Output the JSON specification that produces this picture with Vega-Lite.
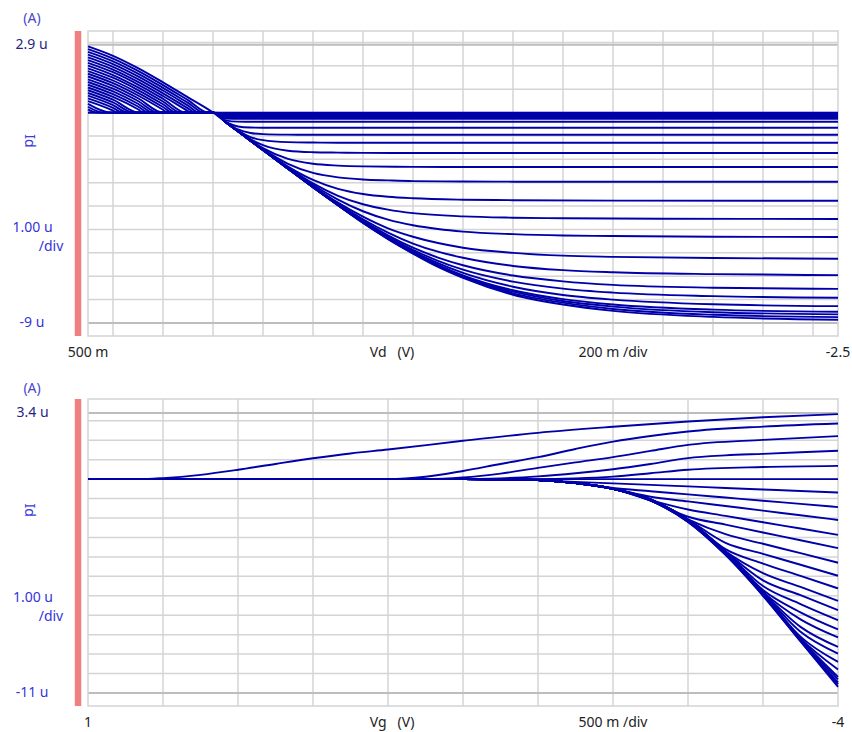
{
"$schema": "https://vega.github.io/schema/vega-lite/v6.json",
"width": 852, "height": 732, "autosize": "none", "padding": 0,
"background": "white",
"config": {"view": {"stroke": null}, "font": "Noto Sans"},
"datasets": {
"top": [
{"c":1,"v":0.5,"i":0},{"c":1,"v":-2.5,"i":0},
{"c":2,"v":0.5,"i":0},{"c":2,"v":0,"i":0},{"c":2,"v":-0.05,"i":-0.03},{"c":2,"v":-2.5,"i":-0.03},
{"c":3,"v":0.5,"i":0.135},{"c":3,"v":0.467,"i":0},{"c":3,"v":0,"i":0},{"c":3,"v":-0.05,"i":-0.06},{"c":3,"v":-2.5,"i":-0.06},
{"c":4,"v":0.5,"i":0.252},{"c":4,"v":0.438,"i":0},{"c":4,"v":0,"i":0},{"c":4,"v":-0.05,"i":-0.1},{"c":4,"v":-2.5,"i":-0.1},
{"c":5,"v":0.5,"i":0.37},{"c":5,"v":0.409,"i":0},{"c":5,"v":0,"i":0},{"c":5,"v":-0.05,"i":-0.149},{"c":5,"v":-0.1,"i":-0.15},{"c":5,"v":-2.5,"i":-0.15},
{"c":6,"v":0.5,"i":0.487},{"c":6,"v":0.4,"i":0.082},{"c":6,"v":0.384,"i":0},{"c":6,"v":0,"i":0},{"c":6,"v":-0.05,"i":-0.197},{"c":6,"v":-0.1,"i":-0.2},{"c":6,"v":-2.5,"i":-0.2},
{"c":7,"v":0.5,"i":0.605},{"c":7,"v":0.4,"i":0.2},{"c":7,"v":0.362,"i":0},{"c":7,"v":0,"i":0},{"c":7,"v":-0.05,"i":-0.257},{"c":7,"v":-0.1,"i":-0.269},{"c":7,"v":-0.2,"i":-0.27},{"c":7,"v":-2.5,"i":-0.27},
{"c":8,"v":0.5,"i":0.722},{"c":8,"v":0.4,"i":0.317},{"c":8,"v":0.34,"i":0},{"c":8,"v":0,"i":0},{"c":8,"v":-0.05,"i":-0.33},{"c":8,"v":-0.1,"i":-0.385},{"c":8,"v":-0.15,"i":-0.39},{"c":8,"v":-2.5,"i":-0.39},
{"c":9,"v":0.5,"i":0.839},{"c":9,"v":0.4,"i":0.434},{"c":9,"v":0.317,"i":0},{"c":9,"v":0,"i":0},{"c":9,"v":-0.05,"i":-0.386},{"c":9,"v":-0.1,"i":-0.593},{"c":9,"v":-0.15,"i":-0.637},{"c":9,"v":-0.2,"i":-0.646},{"c":9,"v":-0.3,"i":-0.65},{"c":9,"v":-2.5,"i":-0.65},
{"c":10,"v":0.5,"i":0.957},{"c":10,"v":0.4,"i":0.552},{"c":10,"v":0.296,"i":0},{"c":10,"v":0,"i":0},{"c":10,"v":-0.05,"i":-0.397},{"c":10,"v":-0.1,"i":-0.722},{"c":10,"v":-0.15,"i":-0.874},{"c":10,"v":-0.2,"i":-0.922},{"c":10,"v":-0.3,"i":-0.944},{"c":10,"v":-0.4,"i":-0.949},{"c":10,"v":-2.5,"i":-0.95},
{"c":11,"v":0.5,"i":1.074},{"c":11,"v":0.4,"i":0.669},{"c":11,"v":0.3,"i":0.143},{"c":11,"v":0.277,"i":0},{"c":11,"v":0,"i":0},{"c":11,"v":-0.05,"i":-0.4},{"c":11,"v":-0.1,"i":-0.771},{"c":11,"v":-0.15,"i":-1.045},{"c":11,"v":-0.2,"i":-1.18},{"c":11,"v":-0.3,"i":-1.264},{"c":11,"v":-0.4,"i":-1.281},{"c":11,"v":-0.5,"i":-1.288},{"c":11,"v":-2.5,"i":-1.29},
{"c":12,"v":0.5,"i":1.192},{"c":12,"v":0.4,"i":0.787},{"c":12,"v":0.3,"i":0.261},{"c":12,"v":0.257,"i":0},{"c":12,"v":0,"i":0},{"c":12,"v":-0.05,"i":-0.4},{"c":12,"v":-0.1,"i":-0.79},{"c":12,"v":-0.15,"i":-1.138},{"c":12,"v":-0.2,"i":-1.394},{"c":12,"v":-0.3,"i":-1.63},{"c":12,"v":-0.4,"i":-1.695},{"c":12,"v":-0.5,"i":-1.713},{"c":12,"v":-0.6,"i":-1.723},{"c":12,"v":-0.8,"i":-1.73},{"c":12,"v":-2.5,"i":-1.73},
{"c":13,"v":0.5,"i":1.309},{"c":13,"v":0.4,"i":0.904},{"c":13,"v":0.3,"i":0.378},{"c":13,"v":0.238,"i":0},{"c":13,"v":0,"i":0},{"c":13,"v":-0.05,"i":-0.4},{"c":13,"v":-0.1,"i":-0.797},{"c":13,"v":-0.15,"i":-1.18},{"c":13,"v":-0.2,"i":-1.52},{"c":13,"v":-0.3,"i":-1.98},{"c":13,"v":-0.4,"i":-2.19},{"c":13,"v":-0.5,"i":-2.267},{"c":13,"v":-0.6,"i":-2.3},{"c":13,"v":-0.8,"i":-2.32},{"c":13,"v":-1,"i":-2.33},{"c":13,"v":-2.5,"i":-2.33},
{"c":14,"v":0.5,"i":1.426},{"c":14,"v":0.4,"i":1.021},{"c":14,"v":0.3,"i":0.495},{"c":14,"v":0.219,"i":0},{"c":14,"v":0,"i":0},{"c":14,"v":-0.05,"i":-0.4},{"c":14,"v":-0.1,"i":-0.8},{"c":14,"v":-0.15,"i":-1.19},{"c":14,"v":-0.2,"i":-1.563},{"c":14,"v":-0.3,"i":-2.19},{"c":14,"v":-0.4,"i":-2.58},{"c":14,"v":-0.5,"i":-2.77},{"c":14,"v":-0.6,"i":-2.86},{"c":14,"v":-0.7,"i":-2.9},{"c":14,"v":-0.8,"i":-2.93},{"c":14,"v":-1,"i":-2.945},{"c":14,"v":-1.2,"i":-2.955},{"c":14,"v":-2.5,"i":-2.96},
{"c":15,"v":0.5,"i":1.544},{"c":15,"v":0.4,"i":1.139},{"c":15,"v":0.3,"i":0.613},{"c":15,"v":0.2,"i":0},{"c":15,"v":0,"i":0},{"c":15,"v":-0.05,"i":-0.4},{"c":15,"v":-0.1,"i":-0.8},{"c":15,"v":-0.15,"i":-1.196},{"c":15,"v":-0.2,"i":-1.585},{"c":15,"v":-0.3,"i":-2.31},{"c":15,"v":-0.4,"i":-2.88},{"c":15,"v":-0.5,"i":-3.26},{"c":15,"v":-0.6,"i":-3.48},{"c":15,"v":-0.7,"i":-3.6},{"c":15,"v":-0.8,"i":-3.665},{"c":15,"v":-1,"i":-3.725},{"c":15,"v":-1.2,"i":-3.747},{"c":15,"v":-1.6,"i":-3.765},{"c":15,"v":-2.5,"i":-3.77},
{"c":16,"v":0.5,"i":1.661},{"c":16,"v":0.4,"i":1.256},{"c":16,"v":0.3,"i":0.73},{"c":16,"v":0.2,"i":0.121},{"c":16,"v":0.181,"i":0},{"c":16,"v":0,"i":0},{"c":16,"v":-0.05,"i":-0.4},{"c":16,"v":-0.1,"i":-0.8},{"c":16,"v":-0.15,"i":-1.198},{"c":16,"v":-0.2,"i":-1.597},{"c":16,"v":-0.3,"i":-2.35},{"c":16,"v":-0.4,"i":-3.03},{"c":16,"v":-0.5,"i":-3.56},{"c":16,"v":-0.6,"i":-3.92},{"c":16,"v":-0.7,"i":-4.15},{"c":16,"v":-0.8,"i":-4.3},{"c":16,"v":-1,"i":-4.44},{"c":16,"v":-1.2,"i":-4.495},{"c":16,"v":-1.4,"i":-4.52},{"c":16,"v":-1.8,"i":-4.54},{"c":16,"v":-2.5,"i":-4.55},
{"c":17,"v":0.5,"i":1.778},{"c":17,"v":0.4,"i":1.373},{"c":17,"v":0.3,"i":0.847},{"c":17,"v":0.2,"i":0.238},{"c":17,"v":0.163,"i":0},{"c":17,"v":0,"i":0},{"c":17,"v":-0.05,"i":-0.4},{"c":17,"v":-0.1,"i":-0.8},{"c":17,"v":-0.15,"i":-1.2},{"c":17,"v":-0.2,"i":-1.6},{"c":17,"v":-0.3,"i":-2.38},{"c":17,"v":-0.4,"i":-3.1},{"c":17,"v":-0.5,"i":-3.72},{"c":17,"v":-0.6,"i":-4.22},{"c":17,"v":-0.7,"i":-4.58},{"c":17,"v":-0.8,"i":-4.82},{"c":17,"v":-0.9,"i":-4.98},{"c":17,"v":-1,"i":-5.09},{"c":17,"v":-1.2,"i":-5.2},{"c":17,"v":-1.4,"i":-5.26},{"c":17,"v":-1.6,"i":-5.28},{"c":17,"v":-2,"i":-5.31},{"c":17,"v":-2.5,"i":-5.32},
{"c":18,"v":0.5,"i":1.896},{"c":18,"v":0.4,"i":1.491},{"c":18,"v":0.3,"i":0.965},{"c":18,"v":0.2,"i":0.356},{"c":18,"v":0.145,"i":0},{"c":18,"v":0,"i":0},{"c":18,"v":-0.05,"i":-0.4},{"c":18,"v":-0.1,"i":-0.8},{"c":18,"v":-0.15,"i":-1.2},{"c":18,"v":-0.2,"i":-1.6},{"c":18,"v":-0.3,"i":-2.39},{"c":18,"v":-0.4,"i":-3.15},{"c":18,"v":-0.5,"i":-3.85},{"c":18,"v":-0.6,"i":-4.45},{"c":18,"v":-0.7,"i":-4.95},{"c":18,"v":-0.8,"i":-5.31},{"c":18,"v":-0.9,"i":-5.58},{"c":18,"v":-1,"i":-5.78},{"c":18,"v":-1.2,"i":-6},{"c":18,"v":-1.4,"i":-6.12},{"c":18,"v":-1.6,"i":-6.17},{"c":18,"v":-2,"i":-6.22},{"c":18,"v":-2.5,"i":-6.25},
{"c":19,"v":0.5,"i":2.013},{"c":19,"v":0.4,"i":1.608},{"c":19,"v":0.3,"i":1.082},{"c":19,"v":0.2,"i":0.473},{"c":19,"v":0.127,"i":0},{"c":19,"v":0,"i":0},{"c":19,"v":-0.05,"i":-0.4},{"c":19,"v":-0.1,"i":-0.8},{"c":19,"v":-0.15,"i":-1.2},{"c":19,"v":-0.2,"i":-1.6},{"c":19,"v":-0.3,"i":-2.39},{"c":19,"v":-0.4,"i":-3.17},{"c":19,"v":-0.5,"i":-3.9},{"c":19,"v":-0.6,"i":-4.56},{"c":19,"v":-0.7,"i":-5.13},{"c":19,"v":-0.8,"i":-5.6},{"c":19,"v":-0.9,"i":-5.95},{"c":19,"v":-1,"i":-6.21},{"c":19,"v":-1.2,"i":-6.56},{"c":19,"v":-1.4,"i":-6.74},{"c":19,"v":-1.6,"i":-6.83},{"c":19,"v":-2,"i":-6.91},{"c":19,"v":-2.5,"i":-6.95},
{"c":20,"v":0.5,"i":2.131},{"c":20,"v":0.4,"i":1.726},{"c":20,"v":0.3,"i":1.2},{"c":20,"v":0.2,"i":0.591},{"c":20,"v":0.108,"i":0},{"c":20,"v":0,"i":0},{"c":20,"v":-0.05,"i":-0.4},{"c":20,"v":-0.1,"i":-0.8},{"c":20,"v":-0.15,"i":-1.2},{"c":20,"v":-0.2,"i":-1.6},{"c":20,"v":-0.3,"i":-2.4},{"c":20,"v":-0.4,"i":-3.18},{"c":20,"v":-0.5,"i":-3.93},{"c":20,"v":-0.6,"i":-4.62},{"c":20,"v":-0.7,"i":-5.25},{"c":20,"v":-0.8,"i":-5.78},{"c":20,"v":-0.9,"i":-6.2},{"c":20,"v":-1,"i":-6.53},{"c":20,"v":-1.2,"i":-6.97},{"c":20,"v":-1.4,"i":-7.22},{"c":20,"v":-1.6,"i":-7.37},{"c":20,"v":-2,"i":-7.49},{"c":20,"v":-2.5,"i":-7.54},
{"c":21,"v":0.5,"i":2.248},{"c":21,"v":0.4,"i":1.843},{"c":21,"v":0.3,"i":1.317},{"c":21,"v":0.2,"i":0.708},{"c":21,"v":0.1,"i":0.063},{"c":21,"v":0.09,"i":0},{"c":21,"v":0,"i":0},{"c":21,"v":-0.05,"i":-0.4},{"c":21,"v":-0.1,"i":-0.8},{"c":21,"v":-0.15,"i":-1.2},{"c":21,"v":-0.2,"i":-1.6},{"c":21,"v":-0.3,"i":-2.4},{"c":21,"v":-0.4,"i":-3.19},{"c":21,"v":-0.5,"i":-3.94},{"c":21,"v":-0.6,"i":-4.65},{"c":21,"v":-0.7,"i":-5.3},{"c":21,"v":-0.8,"i":-5.87},{"c":21,"v":-0.9,"i":-6.34},{"c":21,"v":-1,"i":-6.72},{"c":21,"v":-1.2,"i":-7.23},{"c":21,"v":-1.4,"i":-7.53},{"c":21,"v":-1.6,"i":-7.7},{"c":21,"v":-2,"i":-7.85},{"c":21,"v":-2.5,"i":-7.92},
{"c":22,"v":0.5,"i":2.365},{"c":22,"v":0.4,"i":1.96},{"c":22,"v":0.3,"i":1.434},{"c":22,"v":0.2,"i":0.825},{"c":22,"v":0.1,"i":0.18},{"c":22,"v":0.072,"i":0},{"c":22,"v":0,"i":0},{"c":22,"v":-0.05,"i":-0.4},{"c":22,"v":-0.1,"i":-0.8},{"c":22,"v":-0.15,"i":-1.2},{"c":22,"v":-0.2,"i":-1.6},{"c":22,"v":-0.3,"i":-2.4},{"c":22,"v":-0.4,"i":-3.19},{"c":22,"v":-0.5,"i":-3.95},{"c":22,"v":-0.6,"i":-4.68},{"c":22,"v":-0.7,"i":-5.35},{"c":22,"v":-0.8,"i":-5.94},{"c":22,"v":-0.9,"i":-6.44},{"c":22,"v":-1,"i":-6.86},{"c":22,"v":-1.2,"i":-7.45},{"c":22,"v":-1.4,"i":-7.8},{"c":22,"v":-1.6,"i":-8},{"c":22,"v":-2,"i":-8.2},{"c":22,"v":-2.5,"i":-8.28},
{"c":23,"v":0.5,"i":2.483},{"c":23,"v":0.4,"i":2.078},{"c":23,"v":0.3,"i":1.552},{"c":23,"v":0.2,"i":0.943},{"c":23,"v":0.1,"i":0.298},{"c":23,"v":0.054,"i":0},{"c":23,"v":0,"i":0},{"c":23,"v":-0.05,"i":-0.4},{"c":23,"v":-0.1,"i":-0.8},{"c":23,"v":-0.15,"i":-1.2},{"c":23,"v":-0.2,"i":-1.6},{"c":23,"v":-0.3,"i":-2.4},{"c":23,"v":-0.4,"i":-3.19},{"c":23,"v":-0.5,"i":-3.96},{"c":23,"v":-0.6,"i":-4.69},{"c":23,"v":-0.7,"i":-5.38},{"c":23,"v":-0.8,"i":-5.98},{"c":23,"v":-0.9,"i":-6.51},{"c":23,"v":-1,"i":-6.96},{"c":23,"v":-1.2,"i":-7.6},{"c":23,"v":-1.4,"i":-7.98},{"c":23,"v":-1.6,"i":-8.21},{"c":23,"v":-2,"i":-8.43},{"c":23,"v":-2.5,"i":-8.52},
{"c":24,"v":0.5,"i":2.6},{"c":24,"v":0.4,"i":2.195},{"c":24,"v":0.3,"i":1.669},{"c":24,"v":0.2,"i":1.06},{"c":24,"v":0.1,"i":0.415},{"c":24,"v":0.036,"i":0},{"c":24,"v":0,"i":0},{"c":24,"v":-0.05,"i":-0.4},{"c":24,"v":-0.1,"i":-0.8},{"c":24,"v":-0.15,"i":-1.2},{"c":24,"v":-0.2,"i":-1.6},{"c":24,"v":-0.3,"i":-2.4},{"c":24,"v":-0.4,"i":-3.19},{"c":24,"v":-0.5,"i":-3.96},{"c":24,"v":-0.6,"i":-4.7},{"c":24,"v":-0.7,"i":-5.39},{"c":24,"v":-0.8,"i":-6},{"c":24,"v":-0.9,"i":-6.54},{"c":24,"v":-1,"i":-7},{"c":24,"v":-1.2,"i":-7.66},{"c":24,"v":-1.4,"i":-8.06},{"c":24,"v":-1.6,"i":-8.3},{"c":24,"v":-2,"i":-8.54},{"c":24,"v":-2.5,"i":-8.63},
{"c":25,"v":0.5,"i":2.718},{"c":25,"v":0.4,"i":2.313},{"c":25,"v":0.3,"i":1.787},{"c":25,"v":0.2,"i":1.178},{"c":25,"v":0.1,"i":0.533},{"c":25,"v":0.018,"i":0},{"c":25,"v":0,"i":0},{"c":25,"v":-0.05,"i":-0.4},{"c":25,"v":-0.1,"i":-0.8},{"c":25,"v":-0.15,"i":-1.2},{"c":25,"v":-0.2,"i":-1.6},{"c":25,"v":-0.3,"i":-2.4},{"c":25,"v":-0.4,"i":-3.19},{"c":25,"v":-0.5,"i":-3.96},{"c":25,"v":-0.6,"i":-4.71},{"c":25,"v":-0.7,"i":-5.39},{"c":25,"v":-0.8,"i":-6.01},{"c":25,"v":-0.9,"i":-6.57},{"c":25,"v":-1,"i":-7.04},{"c":25,"v":-1.2,"i":-7.73},{"c":25,"v":-1.4,"i":-8.13},{"c":25,"v":-1.6,"i":-8.4},{"c":25,"v":-2,"i":-8.65},{"c":25,"v":-2.5,"i":-8.75},
{"c":26,"v":0.5,"i":2.835},{"c":26,"v":0.4,"i":2.43},{"c":26,"v":0.3,"i":1.904},{"c":26,"v":0.2,"i":1.295},{"c":26,"v":0.1,"i":0.65},{"c":26,"v":0,"i":0},{"c":26,"v":-0.05,"i":-0.4},{"c":26,"v":-0.1,"i":-0.8},{"c":26,"v":-0.15,"i":-1.2},{"c":26,"v":-0.2,"i":-1.6},{"c":26,"v":-0.3,"i":-2.4},{"c":26,"v":-0.4,"i":-3.19},{"c":26,"v":-0.5,"i":-3.96},{"c":26,"v":-0.6,"i":-4.72},{"c":26,"v":-0.7,"i":-5.41},{"c":26,"v":-0.8,"i":-6.03},{"c":26,"v":-0.9,"i":-6.6},{"c":26,"v":-1,"i":-7.07},{"c":26,"v":-1.2,"i":-7.79},{"c":26,"v":-1.4,"i":-8.21},{"c":26,"v":-1.6,"i":-8.48},{"c":26,"v":-2,"i":-8.74},{"c":26,"v":-2.5,"i":-8.86}
],
"bot": [
{"c":0,"v":1,"i":0},{"c":0,"v":-4,"i":0},
{"c":1,"v":1,"i":0},{"c":1,"v":0.75,"i":0},{"c":1,"v":0.6,"i":0.01},{"c":1,"v":0.5,"i":0.05},{"c":1,"v":0.25,"i":0.22},{"c":1,"v":0,"i":0.48},{"c":1,"v":-0.25,"i":0.78},{"c":1,"v":-0.5,"i":1.07},{"c":1,"v":-0.75,"i":1.32},{"c":1,"v":-1,"i":1.52},{"c":1,"v":-1.5,"i":1.97},{"c":1,"v":-2,"i":2.38},{"c":1,"v":-2.5,"i":2.69},{"c":1,"v":-3,"i":2.96},{"c":1,"v":-3.5,"i":3.18},{"c":1,"v":-4,"i":3.34},
{"c":2,"v":1,"i":0},{"c":2,"v":-1,"i":0},{"c":2,"v":-1.25,"i":0.12},{"c":2,"v":-1.5,"i":0.42},{"c":2,"v":-1.75,"i":0.78},{"c":2,"v":-2,"i":1.13},{"c":2,"v":-2.25,"i":1.55},{"c":2,"v":-2.5,"i":1.93},{"c":2,"v":-2.75,"i":2.22},{"c":2,"v":-3,"i":2.45},{"c":2,"v":-3.5,"i":2.7},{"c":2,"v":-4,"i":2.86},
{"c":3,"v":1,"i":0},{"c":3,"v":-1.25,"i":0},{"c":3,"v":-1.5,"i":0.08},{"c":3,"v":-1.75,"i":0.28},{"c":3,"v":-2,"i":0.58},{"c":3,"v":-2.25,"i":0.86},{"c":3,"v":-2.5,"i":1.13},{"c":3,"v":-2.75,"i":1.45},{"c":3,"v":-3,"i":1.76},{"c":3,"v":-3.5,"i":2.02},{"c":3,"v":-4,"i":2.21},
{"c":4,"v":1,"i":0},{"c":4,"v":-1.5,"i":0},{"c":4,"v":-1.75,"i":0.04},{"c":4,"v":-2,"i":0.14},{"c":4,"v":-2.25,"i":0.3},{"c":4,"v":-2.5,"i":0.51},{"c":4,"v":-2.75,"i":0.78},{"c":4,"v":-3,"i":1.08},{"c":4,"v":-3.25,"i":1.22},{"c":4,"v":-3.5,"i":1.3},{"c":4,"v":-4,"i":1.46},
{"c":5,"v":1,"i":0},{"c":5,"v":-2,"i":0},{"c":5,"v":-2.25,"i":0.04},{"c":5,"v":-2.5,"i":0.13},{"c":5,"v":-2.75,"i":0.3},{"c":5,"v":-3,"i":0.48},{"c":5,"v":-3.5,"i":0.62},{"c":5,"v":-4,"i":0.68},
{"c":11,"v":1,"i":0},{"c":11,"v":-1.5,"i":0},{"c":11,"v":-1.75,"i":-0.01},{"c":11,"v":-2,"i":-0.05},{"c":11,"v":-2.25,"i":-0.141},{"c":11,"v":-2.5,"i":-0.219},{"c":11,"v":-2.75,"i":-0.298},{"c":11,"v":-3,"i":-0.376},{"c":11,"v":-3.25,"i":-0.455},{"c":11,"v":-3.5,"i":-0.533},{"c":11,"v":-3.75,"i":-0.611},{"c":11,"v":-4,"i":-0.69},
{"c":12,"v":1,"i":0},{"c":12,"v":-1.5,"i":0},{"c":12,"v":-1.75,"i":-0.01},{"c":12,"v":-2,"i":-0.05},{"c":12,"v":-2.25,"i":-0.2},{"c":12,"v":-2.5,"i":-0.458},{"c":12,"v":-2.75,"i":-0.622},{"c":12,"v":-3,"i":-0.785},{"c":12,"v":-3.25,"i":-0.949},{"c":12,"v":-3.5,"i":-1.113},{"c":12,"v":-3.75,"i":-1.276},{"c":12,"v":-4,"i":-1.44},
{"c":13,"v":1,"i":0},{"c":13,"v":-1.5,"i":0},{"c":13,"v":-1.75,"i":-0.01},{"c":13,"v":-2,"i":-0.05},{"c":13,"v":-2.25,"i":-0.2},{"c":13,"v":-2.5,"i":-0.5},{"c":13,"v":-2.75,"i":-0.907},{"c":13,"v":-3,"i":-1.145},{"c":13,"v":-3.25,"i":-1.384},{"c":13,"v":-3.5,"i":-1.623},{"c":13,"v":-3.75,"i":-1.861},{"c":13,"v":-4,"i":-2.1},
{"c":14,"v":1,"i":0},{"c":14,"v":-1.5,"i":0},{"c":14,"v":-1.75,"i":-0.01},{"c":14,"v":-2,"i":-0.05},{"c":14,"v":-2.25,"i":-0.2},{"c":14,"v":-2.5,"i":-0.5},{"c":14,"v":-2.75,"i":-1.08},{"c":14,"v":-3,"i":-1.564},{"c":14,"v":-3.25,"i":-1.891},{"c":14,"v":-3.5,"i":-2.219},{"c":14,"v":-3.75,"i":-2.543},{"c":14,"v":-4,"i":-2.87},
{"c":15,"v":1,"i":0},{"c":15,"v":-1.5,"i":0},{"c":15,"v":-1.75,"i":-0.01},{"c":15,"v":-2,"i":-0.05},{"c":15,"v":-2.25,"i":-0.2},{"c":15,"v":-2.5,"i":-0.5},{"c":15,"v":-2.75,"i":-1.1},{"c":15,"v":-3,"i":-1.935},{"c":15,"v":-3.25,"i":-2.339},{"c":15,"v":-3.5,"i":-2.744},{"c":15,"v":-3.75,"i":-3.145},{"c":15,"v":-4,"i":-3.55},
{"c":16,"v":1,"i":0},{"c":16,"v":-1.5,"i":0},{"c":16,"v":-1.75,"i":-0.01},{"c":16,"v":-2,"i":-0.05},{"c":16,"v":-2.25,"i":-0.2},{"c":16,"v":-2.5,"i":-0.5},{"c":16,"v":-2.75,"i":-1.03},{"c":16,"v":-3,"i":-2.07},{"c":16,"v":-3.25,"i":-2.834},{"c":16,"v":-3.5,"i":-3.324},{"c":16,"v":-3.75,"i":-3.81},{"c":16,"v":-4,"i":-4.3},
{"c":17,"v":1,"i":0},{"c":17,"v":-1.5,"i":0},{"c":17,"v":-1.75,"i":-0.01},{"c":17,"v":-2,"i":-0.05},{"c":17,"v":-2.25,"i":-0.2},{"c":17,"v":-2.5,"i":-0.5},{"c":17,"v":-2.75,"i":-1.04},{"c":17,"v":-3,"i":-2.08},{"c":17,"v":-3.25,"i":-3.275},{"c":17,"v":-3.5,"i":-3.842},{"c":17,"v":-3.75,"i":-4.403},{"c":17,"v":-4,"i":-4.97},
{"c":18,"v":1,"i":0},{"c":18,"v":-1.5,"i":0},{"c":18,"v":-1.75,"i":-0.01},{"c":18,"v":-2,"i":-0.05},{"c":18,"v":-2.25,"i":-0.2},{"c":18,"v":-2.5,"i":-0.5},{"c":18,"v":-2.75,"i":-1.04},{"c":18,"v":-3,"i":-2.08},{"c":18,"v":-3.25,"i":-3.6},{"c":18,"v":-3.5,"i":-4.344},{"c":18,"v":-3.75,"i":-4.979},{"c":18,"v":-4,"i":-5.62},
{"c":19,"v":1,"i":0},{"c":19,"v":-1.5,"i":0},{"c":19,"v":-1.75,"i":-0.01},{"c":19,"v":-2,"i":-0.05},{"c":19,"v":-2.25,"i":-0.2},{"c":19,"v":-2.5,"i":-0.5},{"c":19,"v":-2.75,"i":-1.05},{"c":19,"v":-3,"i":-2.09},{"c":19,"v":-3.25,"i":-3.71},{"c":19,"v":-3.5,"i":-4.839},{"c":19,"v":-3.75,"i":-5.546},{"c":19,"v":-4,"i":-6.26},
{"c":20,"v":1,"i":0},{"c":20,"v":-1.5,"i":0},{"c":20,"v":-1.75,"i":-0.01},{"c":20,"v":-2,"i":-0.05},{"c":20,"v":-2.25,"i":-0.2},{"c":20,"v":-2.5,"i":-0.5},{"c":20,"v":-2.75,"i":-1.05},{"c":20,"v":-3,"i":-2.1},{"c":20,"v":-3.25,"i":-3.72},{"c":20,"v":-3.5,"i":-5.21},{"c":20,"v":-3.75,"i":-5.972},{"c":20,"v":-4,"i":-6.74},
{"c":21,"v":1,"i":0},{"c":21,"v":-1.5,"i":0},{"c":21,"v":-1.75,"i":-0.01},{"c":21,"v":-2,"i":-0.05},{"c":21,"v":-2.25,"i":-0.2},{"c":21,"v":-2.5,"i":-0.5},{"c":21,"v":-2.75,"i":-1.05},{"c":21,"v":-3,"i":-2.11},{"c":21,"v":-3.25,"i":-3.74},{"c":21,"v":-3.5,"i":-5.5},{"c":21,"v":-3.75,"i":-6.424},{"c":21,"v":-4,"i":-7.25},
{"c":22,"v":1,"i":0},{"c":22,"v":-1.5,"i":0},{"c":22,"v":-1.75,"i":-0.01},{"c":22,"v":-2,"i":-0.05},{"c":22,"v":-2.25,"i":-0.2},{"c":22,"v":-2.5,"i":-0.5},{"c":22,"v":-2.75,"i":-1.06},{"c":22,"v":-3,"i":-2.12},{"c":22,"v":-3.25,"i":-3.75},{"c":22,"v":-3.5,"i":-5.7},{"c":22,"v":-3.75,"i":-6.849},{"c":22,"v":-4,"i":-7.73},
{"c":23,"v":1,"i":0},{"c":23,"v":-1.5,"i":0},{"c":23,"v":-1.75,"i":-0.01},{"c":23,"v":-2,"i":-0.05},{"c":23,"v":-2.25,"i":-0.2},{"c":23,"v":-2.5,"i":-0.5},{"c":23,"v":-2.75,"i":-1.06},{"c":23,"v":-3,"i":-2.13},{"c":23,"v":-3.25,"i":-3.77},{"c":23,"v":-3.5,"i":-5.8},{"c":23,"v":-3.75,"i":-7.212},{"c":23,"v":-4,"i":-8.14},
{"c":24,"v":1,"i":0},{"c":24,"v":-1.5,"i":0},{"c":24,"v":-1.75,"i":-0.01},{"c":24,"v":-2,"i":-0.05},{"c":24,"v":-2.25,"i":-0.2},{"c":24,"v":-2.5,"i":-0.5},{"c":24,"v":-2.75,"i":-1.07},{"c":24,"v":-3,"i":-2.13},{"c":24,"v":-3.25,"i":-3.78},{"c":24,"v":-3.5,"i":-5.82},{"c":24,"v":-3.75,"i":-7.6},{"c":24,"v":-4,"i":-8.63},
{"c":25,"v":1,"i":0},{"c":25,"v":-1.5,"i":0},{"c":25,"v":-1.75,"i":-0.01},{"c":25,"v":-2,"i":-0.05},{"c":25,"v":-2.25,"i":-0.2},{"c":25,"v":-2.5,"i":-0.5},{"c":25,"v":-2.75,"i":-1.07},{"c":25,"v":-3,"i":-2.14},{"c":25,"v":-3.25,"i":-3.8},{"c":25,"v":-3.5,"i":-5.84},{"c":25,"v":-3.75,"i":-7.85},{"c":25,"v":-4,"i":-8.97},
{"c":26,"v":1,"i":0},{"c":26,"v":-1.5,"i":0},{"c":26,"v":-1.75,"i":-0.01},{"c":26,"v":-2,"i":-0.05},{"c":26,"v":-2.25,"i":-0.2},{"c":26,"v":-2.5,"i":-0.5},{"c":26,"v":-2.75,"i":-1.08},{"c":26,"v":-3,"i":-2.15},{"c":26,"v":-3.25,"i":-3.81},{"c":26,"v":-3.5,"i":-5.87},{"c":26,"v":-3.75,"i":-8.1},{"c":26,"v":-4,"i":-9.4},
{"c":27,"v":1,"i":0},{"c":27,"v":-1.5,"i":0},{"c":27,"v":-1.75,"i":-0.01},{"c":27,"v":-2,"i":-0.05},{"c":27,"v":-2.25,"i":-0.2},{"c":27,"v":-2.5,"i":-0.5},{"c":27,"v":-2.75,"i":-1.08},{"c":27,"v":-3,"i":-2.16},{"c":27,"v":-3.25,"i":-3.83},{"c":27,"v":-3.5,"i":-5.89},{"c":27,"v":-3.75,"i":-8.19},{"c":27,"v":-4,"i":-9.79},
{"c":28,"v":1,"i":0},{"c":28,"v":-1.5,"i":0},{"c":28,"v":-1.75,"i":-0.01},{"c":28,"v":-2,"i":-0.05},{"c":28,"v":-2.25,"i":-0.2},{"c":28,"v":-2.5,"i":-0.5},{"c":28,"v":-2.75,"i":-1.08},{"c":28,"v":-3,"i":-2.17},{"c":28,"v":-3.25,"i":-3.84},{"c":28,"v":-3.5,"i":-5.91},{"c":28,"v":-3.75,"i":-8.22},{"c":28,"v":-4,"i":-10.17},
{"c":29,"v":1,"i":0},{"c":29,"v":-1.5,"i":0},{"c":29,"v":-1.75,"i":-0.01},{"c":29,"v":-2,"i":-0.05},{"c":29,"v":-2.25,"i":-0.2},{"c":29,"v":-2.5,"i":-0.5},{"c":29,"v":-2.75,"i":-1.09},{"c":29,"v":-3,"i":-2.18},{"c":29,"v":-3.25,"i":-3.86},{"c":29,"v":-3.5,"i":-5.93},{"c":29,"v":-3.75,"i":-8.26},{"c":29,"v":-4,"i":-10.3},
{"c":30,"v":1,"i":0},{"c":30,"v":-1.5,"i":0},{"c":30,"v":-1.75,"i":-0.01},{"c":30,"v":-2,"i":-0.05},{"c":30,"v":-2.25,"i":-0.2},{"c":30,"v":-2.5,"i":-0.5},{"c":30,"v":-2.75,"i":-1.09},{"c":30,"v":-3,"i":-2.18},{"c":30,"v":-3.25,"i":-3.87},{"c":30,"v":-3.5,"i":-5.96},{"c":30,"v":-3.75,"i":-8.29},{"c":30,"v":-4,"i":-10.45},
{"c":31,"v":1,"i":0},{"c":31,"v":-1.5,"i":0},{"c":31,"v":-1.75,"i":-0.01},{"c":31,"v":-2,"i":-0.05},{"c":31,"v":-2.25,"i":-0.2},{"c":31,"v":-2.5,"i":-0.5},{"c":31,"v":-2.75,"i":-1.1},{"c":31,"v":-3,"i":-2.19},{"c":31,"v":-3.25,"i":-3.88},{"c":31,"v":-3.5,"i":-5.98},{"c":31,"v":-3.75,"i":-8.32},{"c":31,"v":-4,"i":-10.55},
{"c":32,"v":1,"i":0},{"c":32,"v":-1.5,"i":0},{"c":32,"v":-1.75,"i":-0.01},{"c":32,"v":-2,"i":-0.05},{"c":32,"v":-2.25,"i":-0.2},{"c":32,"v":-2.5,"i":-0.5},{"c":32,"v":-2.75,"i":-1.1},{"c":32,"v":-3,"i":-2.2},{"c":32,"v":-3.25,"i":-3.9},{"c":32,"v":-3.5,"i":-6},{"c":32,"v":-3.75,"i":-8.35},{"c":32,"v":-4,"i":-10.68}
],
"tvgrid": [{"v":0.4},{"v":0.2},{"v":0},{"v":-0.2},{"v":-0.4},{"v":-0.6},{"v":-0.8},{"v":-1},{"v":-1.2},{"v":-1.4},{"v":-1.6},{"v":-1.8},{"v":-2},{"v":-2.2},{"v":-2.4}],
"thgrid": [{"i":3},{"i":2},{"i":1},{"i":0},{"i":-1},{"i":-2},{"i":-3},{"i":-4},{"i":-5},{"i":-6},{"i":-7},{"i":-8}],
"tlim": [{"i":2.9},{"i":-9}],
"bvgrid": [{"v":0.5},{"v":0},{"v":-0.5},{"v":-1},{"v":-1.5},{"v":-2},{"v":-2.5},{"v":-3},{"v":-3.5}],
"bhgrid": [{"i":3},{"i":2},{"i":1},{"i":0},{"i":-1},{"i":-2},{"i":-3},{"i":-4},{"i":-5},{"i":-6},{"i":-7},{"i":-8},{"i":-9},{"i":-10}],
"blim": [{"i":3.4},{"i":-11}]
},
"resolve": {"scale": {"x": "independent", "y": "independent"}},
"layer": [
{
"layer": [
{"data": {"values": [{}]}, "mark": {"type": "rect", "fill": "#f08080"},
 "encoding": {"x": {"datum": 0.553, "type": "quantitative", "scale": {"domain": [0.5, -2.5], "range": [88, 838], "nice": false, "zero": false}, "axis": null}, "x2": {"datum": 0.527}, "y": {"datum": -9.556, "type": "quantitative", "scale": {"domain": [-9, 2.9], "range": [323, 44.8], "nice": false, "zero": false}, "axis": null}, "y2": {"datum": 3.49}}},
{"data": {"name": "tvgrid"}, "mark": {"type": "rule", "stroke": "#d4d4d4", "strokeWidth": 1.5},
 "encoding": {"x": {"field": "v", "type": "quantitative", "scale": {"domain": [0.5, -2.5], "range": [88, 838], "nice": false, "zero": false}, "axis": null}, "y": {"datum": -9.556, "type": "quantitative", "scale": {"domain": [-9, 2.9], "range": [323, 44.8], "nice": false, "zero": false}, "axis": null}, "y2": {"datum": 3.49}}},
{"data": {"name": "thgrid"}, "mark": {"type": "rule", "stroke": "#d4d4d4", "strokeWidth": 1.5},
 "encoding": {"y": {"field": "i", "type": "quantitative", "scale": {"domain": [-9, 2.9], "range": [323, 44.8], "nice": false, "zero": false}, "axis": null}, "x": {"datum": 0.5, "type": "quantitative", "scale": {"domain": [0.5, -2.5], "range": [88, 838], "nice": false, "zero": false}, "axis": null}, "x2": {"datum": -2.5}}},
{"data": {"name": "tlim"}, "mark": {"type": "rule", "stroke": "#bdbdbd", "strokeWidth": 2},
 "encoding": {"y": {"field": "i", "type": "quantitative", "scale": {"domain": [-9, 2.9], "range": [323, 44.8], "nice": false, "zero": false}, "axis": null}, "x": {"datum": 0.5, "type": "quantitative", "scale": {"domain": [0.5, -2.5], "range": [88, 838], "nice": false, "zero": false}, "axis": null}, "x2": {"datum": -2.5}}},
{"data": {"values": [{}]}, "mark": {"type": "rect", "fillOpacity": 0, "stroke": "#d4d4d4", "strokeWidth": 1.5},
 "encoding": {"x": {"datum": 0.5, "type": "quantitative", "scale": {"domain": [0.5, -2.5], "range": [88, 838], "nice": false, "zero": false}, "axis": null}, "x2": {"datum": -2.5}, "y": {"datum": -9.556, "type": "quantitative", "scale": {"domain": [-9, 2.9], "range": [323, 44.8], "nice": false, "zero": false}, "axis": null}, "y2": {"datum": 3.49}}},
{"data": {"name": "top"}, "mark": {"type": "line", "stroke": "#0000aa", "strokeWidth": 1.9, "interpolate": "monotone"},
 "encoding": {"x": {"field": "v", "type": "quantitative", "scale": {"domain": [0.5, -2.5], "range": [88, 838], "nice": false, "zero": false}, "axis": null}, "y": {"field": "i", "type": "quantitative", "scale": {"domain": [-9, 2.9], "range": [323, 44.8], "nice": false, "zero": false}, "axis": null}, "detail": {"field": "c", "type": "nominal"}, "order": {"field": "v", "sort": "descending"}}},
{"data": {"values": [{}]}, "mark": {"type": "text", "text": "(A)", "fontSize": 14, "color": "#4848c8", "align": "center", "baseline": "middle"},
 "encoding": {"x": {"datum": 0.724, "type": "quantitative"}, "y": {"datum": 4.02, "type": "quantitative"}}},
{"data": {"values": [{}]}, "mark": {"type": "text", "text": "2.9 u", "fontSize": 14, "color": "#262680", "align": "center", "baseline": "middle"},
 "encoding": {"x": {"datum": 0.726, "type": "quantitative"}, "y": {"datum": 2.9, "type": "quantitative"}}},
{"data": {"values": [{}]}, "mark": {"type": "text", "text": "Id", "fontSize": 14, "color": "#3c3ce0", "align": "center", "baseline": "middle", "angle": 90},
 "encoding": {"x": {"datum": 0.738, "type": "quantitative"}, "y": {"datum": -1.21, "type": "quantitative"}}},
{"data": {"values": [{}]}, "mark": {"type": "text", "text": "1.00 u", "fontSize": 14, "color": "#3434d8", "align": "center", "baseline": "middle"},
 "encoding": {"x": {"datum": 0.722, "type": "quantitative"}, "y": {"datum": -4.94, "type": "quantitative"}}},
{"data": {"values": [{}]}, "mark": {"type": "text", "text": "/div", "fontSize": 14, "color": "#3434d8", "align": "center", "baseline": "middle"},
 "encoding": {"x": {"datum": 0.648, "type": "quantitative"}, "y": {"datum": -5.75, "type": "quantitative"}}},
{"data": {"values": [{}]}, "mark": {"type": "text", "text": "-9 u", "fontSize": 14, "color": "#3434d8", "align": "center", "baseline": "middle"},
 "encoding": {"x": {"datum": 0.724, "type": "quantitative"}, "y": {"datum": -9, "type": "quantitative"}}},
{"data": {"values": [{}]}, "mark": {"type": "text", "text": "500 m", "fontSize": 14, "color": "#222222", "align": "center", "baseline": "middle"},
 "encoding": {"x": {"datum": 0.5, "type": "quantitative"}, "y": {"datum": -10.28, "type": "quantitative"}}},
{"data": {"values": [{}]}, "mark": {"type": "text", "text": "Vd\u00a0\u00a0\u00a0(V)", "fontSize": 14, "color": "#222222", "align": "center", "baseline": "middle"},
 "encoding": {"x": {"datum": -0.716, "type": "quantitative"}, "y": {"datum": -10.28, "type": "quantitative"}}},
{"data": {"values": [{}]}, "mark": {"type": "text", "text": "200 m /div", "fontSize": 14, "color": "#222222", "align": "center", "baseline": "middle"},
 "encoding": {"x": {"datum": -1.6, "type": "quantitative"}, "y": {"datum": -10.28, "type": "quantitative"}}},
{"data": {"values": [{}]}, "mark": {"type": "text", "text": "-2.5", "fontSize": 14, "color": "#222222", "align": "center", "baseline": "middle"},
 "encoding": {"x": {"datum": -2.5, "type": "quantitative"}, "y": {"datum": -10.28, "type": "quantitative"}}}
]
},
{
"layer": [
{"data": {"values": [{}]}, "mark": {"type": "rect", "fill": "#f08080"},
 "encoding": {"x": {"datum": 1.088, "type": "quantitative", "scale": {"domain": [1, -4], "range": [88, 838], "nice": false, "zero": false}, "axis": null}, "x2": {"datum": 1.045}, "y": {"datum": -11.67, "type": "quantitative", "scale": {"domain": [-11, 3.4], "range": [693, 413], "nice": false, "zero": false}, "axis": null}, "y2": {"datum": 4.12}}},
{"data": {"name": "bvgrid"}, "mark": {"type": "rule", "stroke": "#d4d4d4", "strokeWidth": 1.5},
 "encoding": {"x": {"field": "v", "type": "quantitative", "scale": {"domain": [1, -4], "range": [88, 838], "nice": false, "zero": false}, "axis": null}, "y": {"datum": -11.67, "type": "quantitative", "scale": {"domain": [-11, 3.4], "range": [693, 413], "nice": false, "zero": false}, "axis": null}, "y2": {"datum": 4.12}}},
{"data": {"name": "bhgrid"}, "mark": {"type": "rule", "stroke": "#d4d4d4", "strokeWidth": 1.5},
 "encoding": {"y": {"field": "i", "type": "quantitative", "scale": {"domain": [-11, 3.4], "range": [693, 413], "nice": false, "zero": false}, "axis": null}, "x": {"datum": 1, "type": "quantitative", "scale": {"domain": [1, -4], "range": [88, 838], "nice": false, "zero": false}, "axis": null}, "x2": {"datum": -4}}},
{"data": {"name": "blim"}, "mark": {"type": "rule", "stroke": "#bdbdbd", "strokeWidth": 2},
 "encoding": {"y": {"field": "i", "type": "quantitative", "scale": {"domain": [-11, 3.4], "range": [693, 413], "nice": false, "zero": false}, "axis": null}, "x": {"datum": 1, "type": "quantitative", "scale": {"domain": [1, -4], "range": [88, 838], "nice": false, "zero": false}, "axis": null}, "x2": {"datum": -4}}},
{"data": {"values": [{}]}, "mark": {"type": "rect", "fillOpacity": 0, "stroke": "#d4d4d4", "strokeWidth": 1.5},
 "encoding": {"x": {"datum": 1, "type": "quantitative", "scale": {"domain": [1, -4], "range": [88, 838], "nice": false, "zero": false}, "axis": null}, "x2": {"datum": -4}, "y": {"datum": -11.67, "type": "quantitative", "scale": {"domain": [-11, 3.4], "range": [693, 413], "nice": false, "zero": false}, "axis": null}, "y2": {"datum": 4.12}}},
{"data": {"name": "bot"}, "mark": {"type": "line", "stroke": "#0000aa", "strokeWidth": 1.9, "interpolate": "monotone"},
 "encoding": {"x": {"field": "v", "type": "quantitative", "scale": {"domain": [1, -4], "range": [88, 838], "nice": false, "zero": false}, "axis": null}, "y": {"field": "i", "type": "quantitative", "scale": {"domain": [-11, 3.4], "range": [693, 413], "nice": false, "zero": false}, "axis": null}, "detail": {"field": "c", "type": "nominal"}, "order": {"field": "v", "sort": "descending"}}},
{"data": {"values": [{}]}, "mark": {"type": "text", "text": "(A)", "fontSize": 14, "color": "#4848c8", "align": "center", "baseline": "middle"},
 "encoding": {"x": {"datum": 1.373, "type": "quantitative"}, "y": {"datum": 4.63, "type": "quantitative"}}},
{"data": {"values": [{}]}, "mark": {"type": "text", "text": "3.4 u", "fontSize": 14, "color": "#262680", "align": "center", "baseline": "middle"},
 "encoding": {"x": {"datum": 1.37, "type": "quantitative"}, "y": {"datum": 3.4, "type": "quantitative"}}},
{"data": {"values": [{}]}, "mark": {"type": "text", "text": "Id", "fontSize": 14, "color": "#3c3ce0", "align": "center", "baseline": "middle", "angle": 90},
 "encoding": {"x": {"datum": 1.393, "type": "quantitative"}, "y": {"datum": -1.6, "type": "quantitative"}}},
{"data": {"values": [{}]}, "mark": {"type": "text", "text": "1.00 u", "fontSize": 14, "color": "#3434d8", "align": "center", "baseline": "middle"},
 "encoding": {"x": {"datum": 1.367, "type": "quantitative"}, "y": {"datum": -6.11, "type": "quantitative"}}},
{"data": {"values": [{}]}, "mark": {"type": "text", "text": "/div", "fontSize": 14, "color": "#3434d8", "align": "center", "baseline": "middle"},
 "encoding": {"x": {"datum": 1.247, "type": "quantitative"}, "y": {"datum": -7.09, "type": "quantitative"}}},
{"data": {"values": [{}]}, "mark": {"type": "text", "text": "-11 u", "fontSize": 14, "color": "#3434d8", "align": "center", "baseline": "middle"},
 "encoding": {"x": {"datum": 1.373, "type": "quantitative"}, "y": {"datum": -11, "type": "quantitative"}}},
{"data": {"values": [{}]}, "mark": {"type": "text", "text": "1", "fontSize": 14, "color": "#222222", "align": "center", "baseline": "middle"},
 "encoding": {"x": {"datum": 1, "type": "quantitative"}, "y": {"datum": -12.52, "type": "quantitative"}}},
{"data": {"values": [{}]}, "mark": {"type": "text", "text": "Vg\u00a0\u00a0\u00a0(V)", "fontSize": 14, "color": "#222222", "align": "center", "baseline": "middle"},
 "encoding": {"x": {"datum": -1.027, "type": "quantitative"}, "y": {"datum": -12.52, "type": "quantitative"}}},
{"data": {"values": [{}]}, "mark": {"type": "text", "text": "500 m /div", "fontSize": 14, "color": "#222222", "align": "center", "baseline": "middle"},
 "encoding": {"x": {"datum": -2.5, "type": "quantitative"}, "y": {"datum": -12.52, "type": "quantitative"}}},
{"data": {"values": [{}]}, "mark": {"type": "text", "text": "-4", "fontSize": 14, "color": "#222222", "align": "center", "baseline": "middle"},
 "encoding": {"x": {"datum": -4, "type": "quantitative"}, "y": {"datum": -12.52, "type": "quantitative"}}}
]
}
]
}
